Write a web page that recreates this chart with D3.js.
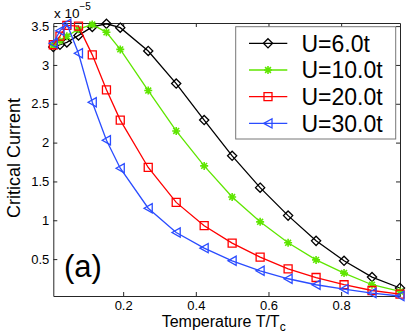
<!DOCTYPE html>
<html>
<head>
<meta charset="utf-8">
<script src="https://cdn.jsdelivr.net/npm/d3@7"></script>
<style>
  body { margin: 0; background: #fff; }
  svg { display: block; font-family: "Liberation Sans", Arial, sans-serif; }
</style>
</head>
<body>
<div id="chart"></div>
<script>
// data (critical current, x 1e-5)
const temps = [0.0077, 0.026, 0.045, 0.077, 0.115, 0.154, 0.192, 0.269, 0.346, 0.423, 0.500, 0.577, 0.654, 0.731, 0.808, 0.885, 0.962];
const u6  = [3.23, 3.26, 3.29, 3.38, 3.49, 3.53, 3.48, 3.18, 2.76, 2.29, 1.83, 1.42, 1.06, 0.735, 0.478, 0.269, 0.128];
const u10 = [3.25, 3.31, 3.37, 3.46, 3.52, 3.42, 3.20, 2.67, 2.15, 1.70, 1.30, 0.98, 0.71, 0.49, 0.32, 0.17, 0.084];
const u20 = [3.26, 3.37, 3.51, 3.50, 3.13, 2.68, 2.29, 1.68, 1.23, 0.93, 0.706, 0.526, 0.375, 0.263, 0.170, 0.096, 0.050];
const u30 = [3.28, 3.44, 3.53, 3.15, 2.52, 2.03, 1.67, 1.155, 0.842, 0.641, 0.478, 0.35, 0.247, 0.17, 0.114, 0.063, 0.025];
const seriesNames = ["U=6.0t", "U=10.0t", "U=20.0t", "U=30.0t"];
const xTicks = [0.2, 0.4, 0.6, 0.8];
const yTicks = [0.5, 1, 1.5, 2, 2.5, 3, 3.5];

const series = [
    { name: seriesNames[0], values: u6,  color: "#000000", marker: "diamond" },
    { name: seriesNames[1], values: u10, color: "#5fe600", marker: "star" },
    { name: seriesNames[2], values: u20, color: "#ff0000", marker: "square" },
    { name: seriesNames[3], values: u30, color: "#2a4cff", marker: "triangle" }
];

const W = 407, H = 334;
const margin = { top: 23, right: 7, bottom: 38, left: 53.3 };
const width = W - margin.left - margin.right;
const height = H - margin.top - margin.bottom;

const svg = d3.select("#chart").append("svg")
    .attr("width", W)
    .attr("height", H);

const g = svg.append("g")
    .attr("transform", `translate(${margin.left},${margin.top})`);

const x = d3.scaleLinear().domain([0.0077, 0.962]).range([0, width]);
const y = d3.scaleLinear().domain([0.025, 3.54]).range([height, 0]);

// marker shapes
function markerPath(type) {
    if (type === "diamond") return "M0,-4.6L4.6,0L0,4.6L-4.6,0Z";
    if (type === "square") return "M-4,-4H4V4H-4Z";
    if (type === "triangle") return "M-4.2,0L4,-4.6L4,4.6Z";
    // asterisk
    const r = 4, d = 2.9;
    return `M${-r},0H${r}M0,${-r}V${r}M${-d},${-d}L${d},${d}M${-d},${d}L${d},${-d}`;
}

// axes: ticks pointing in, box all round
const axisColor = "#262626";
const xAxis = g.append("g")
    .attr("transform", `translate(0,${height})`)
    .call(d3.axisBottom(x).tickValues(xTicks).tickSizeInner(-4).tickSizeOuter(0).tickPadding(5)
        .tickFormat(d3.format(".1f")));
const xTop = g.append("g")
    .call(d3.axisTop(x).tickValues(xTicks).tickSizeInner(-4).tickSizeOuter(0).tickFormat(""));
const yAxis = g.append("g")
    .call(d3.axisLeft(y).tickValues(yTicks).tickSizeInner(-4).tickSizeOuter(0).tickPadding(4)
        .tickFormat(d => d3.format("")(d)));
const yRight = g.append("g")
    .attr("transform", `translate(${width},0)`)
    .call(d3.axisRight(y).tickValues(yTicks).tickSizeInner(-4).tickSizeOuter(0).tickFormat(""));

[xAxis, xTop, yAxis, yRight].forEach(a => {
    a.selectAll("path, line").attr("stroke", axisColor).attr("stroke-width", 1);
    a.selectAll("text").attr("fill", "#000").style("font-size", "13px")
        .style("font-family", "'Liberation Sans', Arial, sans-serif");
});

// series lines + markers
const line = d3.line()
    .x((d, i) => x(temps[i]))
    .y(d => y(d));

series.forEach(s => {
    g.append("path")
        .datum(s.values)
        .attr("fill", "none")
        .attr("stroke", s.color)
        .attr("stroke-width", 1.3)
        .attr("d", line);

    g.selectAll(null)
        .data(s.values)
        .enter()
        .append("path")
        .attr("transform", (d, i) => `translate(${x(temps[i])},${y(d)})`)
        .attr("d", markerPath(s.marker))
        .attr("fill", "none")
        .attr("stroke", s.color)
        .attr("stroke-width", s.marker === "star" ? 1.6 : 1.3);
});

// exponent label
const expo = svg.append("text")
    .attr("x", 54)
    .attr("y", 18.3)
    .style("font-size", "13.5px")
    .text("x 10");
expo.append("tspan")
    .attr("dy", -8)
    .style("font-size", "10px")
    .text("\u22125");

// axis labels
svg.append("text")
    .attr("x", margin.left + width / 2 - 3)
    .attr("y", 327)
    .attr("text-anchor", "middle")
    .style("font-size", "16px")
    .text("Temperature T/T")
    .append("tspan")
    .attr("dy", 4)
    .style("font-size", "12px")
    .text("c");

svg.append("text")
    .attr("transform", "translate(20,158) rotate(-90)")
    .attr("text-anchor", "middle")
    .style("font-size", "18px")
    .text("Critical Current");

// panel tag
svg.append("text")
    .attr("x", 64)
    .attr("y", 277)
    .style("font-size", "31px")
    .text("(a)");

// legend
const legend = svg.append("g");
legend.append("rect")
    .attr("x", 235.7)
    .attr("y", 26.7)
    .attr("width", 160)
    .attr("height", 112.3)
    .attr("fill", "#fff")
    .attr("stroke", "#777")
    .attr("stroke-width", 1);

series.forEach((s, i) => {
    const ly = 43.3 + i * 26.7;
    legend.append("line")
        .attr("x1", 249).attr("x2", 287.3)
        .attr("y1", ly).attr("y2", ly)
        .attr("stroke", s.color)
        .attr("stroke-width", 1.3);
    legend.append("path")
        .attr("transform", `translate(268,${ly})`)
        .attr("d", markerPath(s.marker))
        .attr("fill", "none")
        .attr("stroke", s.color)
        .attr("stroke-width", s.marker === "star" ? 1.6 : 1.3);
    legend.append("text")
        .attr("x", 301.5)
        .attr("y", ly + 8.4)
        .style("font-size", "23px")
        .text(s.name);
});
</script>
</body>
</html>
